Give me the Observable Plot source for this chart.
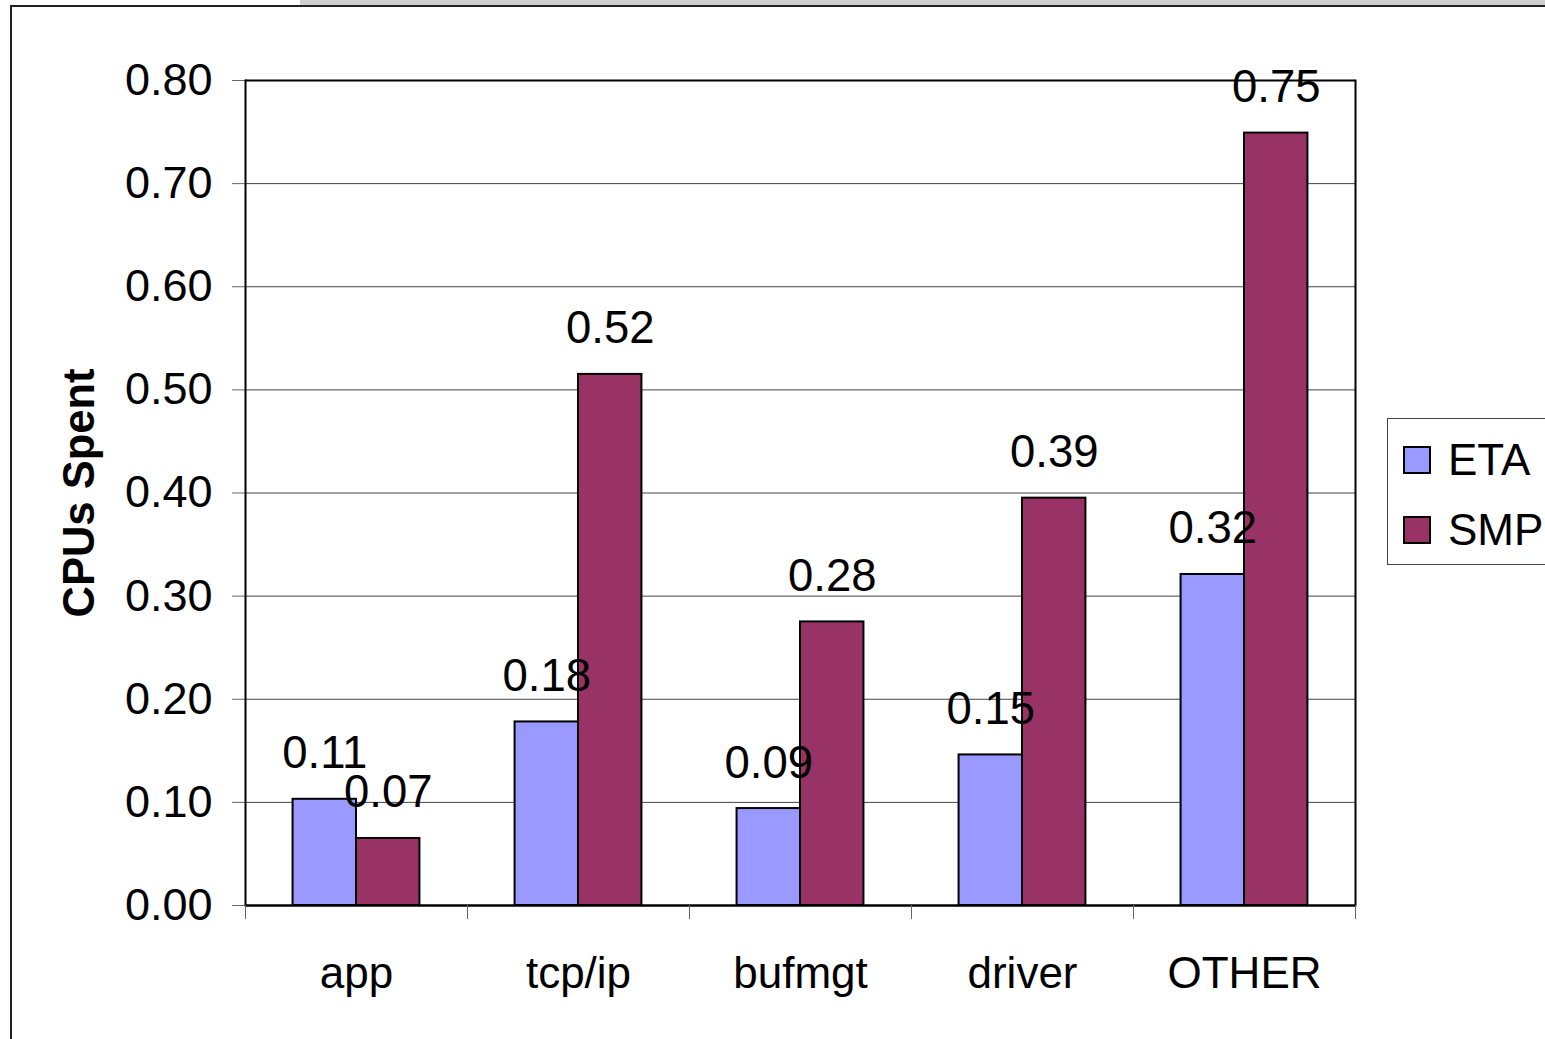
<!DOCTYPE html>
<html>
<head>
<meta charset="utf-8">
<script src="https://cdn.jsdelivr.net/npm/d3@7"></script>
<script src="https://cdn.jsdelivr.net/npm/@observablehq/plot@0.6"></script>
<style>
  html, body { margin: 0; padding: 0; background: #fff; }
  body { width: 1545px; height: 1039px; position: relative; overflow: hidden;
         font-family: "Liberation Sans", Arial, sans-serif; }
  #strip { position: absolute; left: 300px; top: 0; width: 1245px; height: 5px; background: #cfcfcf; }
  #frame { position: absolute; left: 10px; top: 5px; width: 1600px; height: 1100px;
           border: 2px solid #222; box-sizing: border-box; }
  #chart { position: absolute; left: 0; top: 0; }
  #legend { position: absolute; left: 1387px; top: 418px; width: 200px; height: 147px;
            border: 1.5px solid #444; box-sizing: border-box; background: #fff; }
  .item { position: absolute; left: 15px; display: flex; align-items: center; font-size: 44px; color: #000; }
  .sw { width: 24px; height: 24px; border: 2px solid #000; margin-right: 17px; }
</style>
</head>
<body>
<div id="strip"></div>
<div id="frame"></div>
<div id="chart"></div>
<div id="legend"></div>
<script>
// ---- data ----
const categories = ["app", "tcp/ip", "bufmgt", "driver", "OTHER"];
const series = ["ETA", "SMP"];
const etaValues = [0.103, 0.178, 0.094, 0.146, 0.321];
const smpValues = [0.065, 0.515, 0.275, 0.395, 0.749];
const etaLabels = ["0.11", "0.18", "0.09", "0.15", "0.32"];
const smpLabels = ["0.07", "0.52", "0.28", "0.39", "0.75"];
const yTicks = [0, 0.1, 0.2, 0.3, 0.4, 0.5, 0.6, 0.7, 0.8];
const colors = ["#9999FF", "#993366"];

const data = [];
categories.forEach((c, i) => {
  data.push({category: c, series: "ETA", value: etaValues[i], label: etaLabels[i]});
  data.push({category: c, series: "SMP", value: smpValues[i], label: smpLabels[i]});
});

const W = 1545, H = 1039;
const mL = 245, mR = 190, mT = 80, mB = 134;
const band = (W - mL - mR) / categories.length;

const plot = Plot.plot({
  width: W, height: H,
  marginLeft: mL, marginRight: mR, marginTop: mT, marginBottom: mB,
  style: {fontFamily: "'Liberation Sans', Arial, sans-serif", fontSize: "44px", color: "#000", background: "transparent"},
  fx: {domain: categories, padding: 0, round: false, axis: null, label: null},
  x: {domain: series, paddingInner: 0, paddingOuter: 0.75, round: false, axis: null},
  y: {domain: [0, 0.8], axis: null},
  color: {domain: series, range: colors},
  marks: [
    Plot.gridY({ticks: yTicks, stroke: "#444", strokeOpacity: 1, strokeWidth: 1}),
    Plot.axisY({ticks: yTicks, tickFormat: d3.format(".2f"), tickSize: 13, tickPadding: 20,
                stroke: "#666", label: null, fontSize: 45}),
    Plot.barY(data, {fx: "category", x: "series", y: "value", fill: "series",
                     stroke: "#000", strokeWidth: 2}),
    Plot.text(data, {fx: "category", x: "series", y: "value", text: "label",
                     lineAnchor: "bottom", dy: -31, fontSize: 45.5, fill: "#000"}),
    Plot.ruleY([0.8], {stroke: "#000", strokeWidth: 2}),
    Plot.ruleY([0], {stroke: "#000", strokeWidth: 2.5}),
    Plot.frame({anchor: "left", facetAnchor: "left", stroke: "#000", strokeWidth: 2}),
    Plot.frame({anchor: "right", facetAnchor: "right", stroke: "#000", strokeWidth: 2}),
    Plot.axisFx({anchor: "bottom", tickSize: 0, tickPadding: 51, label: null, fontSize: 44}),
    Plot.axisFx({anchor: "bottom", tickSize: 14, text: null, label: null, dx: -band / 2, stroke: "#666"}),
    Plot.axisFx({anchor: "bottom", ticks: [categories[categories.length - 1]], tickSize: 14, text: null,
                 label: null, dx: band / 2, stroke: "#666"}),
    Plot.text(["CPUs Spent"], {frameAnchor: "left", textAnchor: "middle", dx: -152, rotate: -90,
                               fontWeight: "bold", fontSize: 43.5, fill: "#000",
                               facetAnchor: "left", lineAnchor: "bottom"})
  ]
});
document.getElementById("chart").appendChild(plot);

// legend
const color = plot.scale("color");
const legend = document.getElementById("legend");
series.forEach((s, i) => {
  const item = document.createElement("div");
  item.className = "item";
  item.style.top = (i === 0 ? 16 : 86) + "px";
  const sw = document.createElement("div");
  sw.className = "sw";
  sw.style.background = color.apply(s);
  item.appendChild(sw);
  item.appendChild(document.createTextNode(s));
  legend.appendChild(item);
});
</script>
</body>
</html>
